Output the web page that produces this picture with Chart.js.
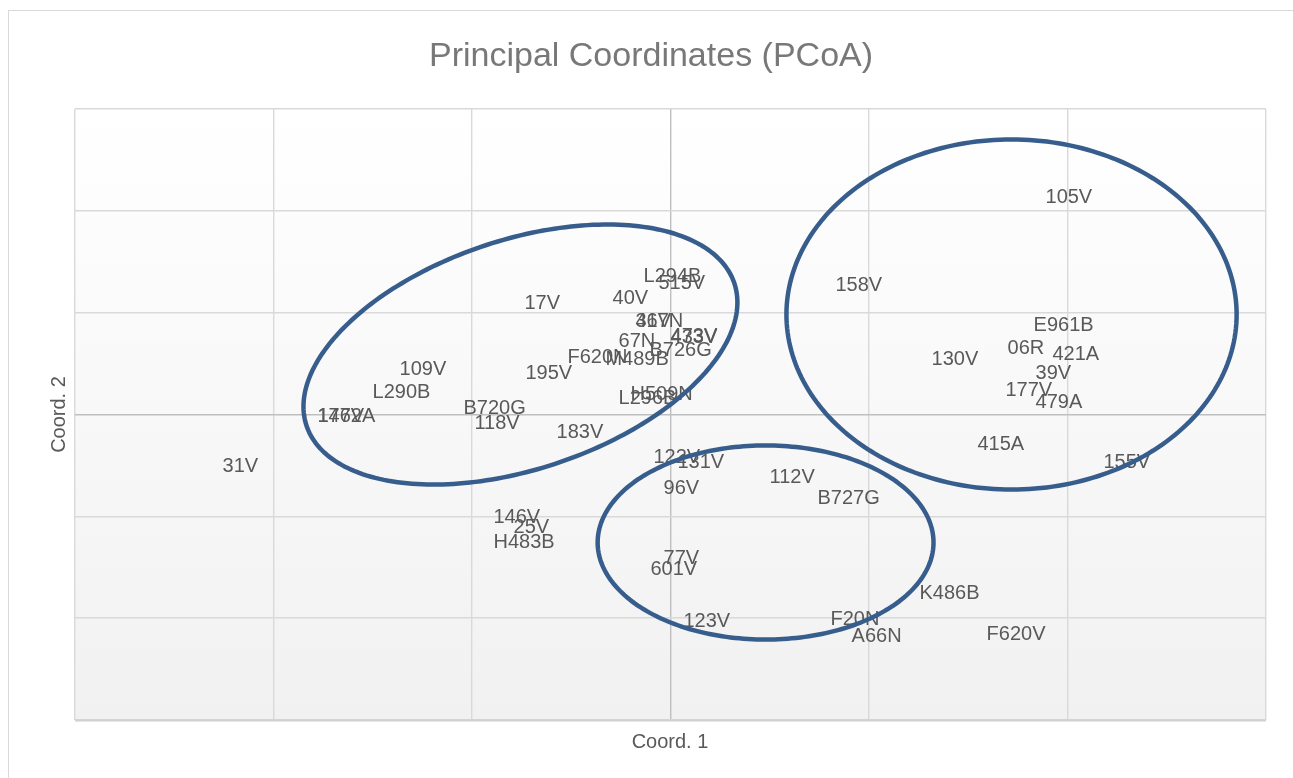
<!DOCTYPE html>
<html>
<head>
<meta charset="utf-8">
<script src="https://cdn.jsdelivr.net/npm/chart.js@4.4.1/dist/chart.umd.min.js"></script>
<style>
  html, body { margin: 0; padding: 0; background: #ffffff; }
  canvas { display: block; }
</style>
</head>
<body>
<canvas id="c" width="1293" height="778"></canvas>
<script>
// ---- Data ----
const pointLabels = [
  "L294B","515V","40V","17V","367N","41V","67N","473V","433V","B726G","F620N","M489B",
  "195V","109V","L290B","B720G","118V","183V","1472A","176V","31V","L296B","H509N",
  "158V","105V","E961B","06R","421A","130V","39V","177V","479A","415A","155V",
  "122V","131V","96V","146V","25V","H483B","77V","601V","112V","B727G",
  "K486B","123V","F20N","A66N","F620V"
];
const coord1 = [
  -0.0161, -0.0086, -0.0317, -0.0761, -0.0202, -0.0202, -0.0287, -0.0025, -0.0025, -0.0131, -0.0544, -0.0353,
  -0.0756, -0.1390, -0.1526, -0.1068, -0.1013, -0.0599, -0.1804, -0.1804, -0.2282, -0.0287, -0.0227,
  0.0806, 0.1864, 0.1804, 0.1673, 0.1899, 0.1290, 0.1814, 0.1662, 0.1814, 0.1521, 0.2156,
  -0.0111, 0.0010, -0.0060, -0.0917, -0.0816, -0.0917, -0.0060, -0.0126, 0.0474, 0.0715,
  0.1229, 0.0040, 0.0781, 0.0887, 0.1567
];
const coord2 = [
  0.1375, 0.1306, 0.1159, 0.1110, 0.0933, 0.0933, 0.0737, 0.0786, 0.0776, 0.0648, 0.0579, 0.0560,
  0.0422, 0.0462, 0.0236, 0.0079, -0.0069, -0.0157, 0.0000, 0.0000, -0.0491, 0.0177, 0.0216,
  0.1286, 0.2151, 0.0894, 0.0668, 0.0609, 0.0560, 0.0422, 0.0255, 0.0137, -0.0275, -0.0452,
  -0.0403, -0.0452, -0.0707, -0.0992, -0.1090, -0.1237, -0.1394, -0.1503, -0.0599, -0.0805,
  -0.1738, -0.2013, -0.1994, -0.2160, -0.2141
];
// Group ellipses in data units: centre, conjugate half-diameters
const ellipseCx = [-0.0756, 0.1718, 0.0479];
const ellipseCy = [0.0589, 0.0982, -0.1257];
const ellipseAx = [0.1093, 0.1134, 0.0846];
const ellipseAy = [0.0511, 0.0, 0.0];
const ellipseBy = [0.1170, 0.1719, 0.0953];

const axisMin = -0.3, axisMax = 0.3, axisStep = 0.1;
const chartTitle = "Principal Coordinates (PCoA)";
const xTitle = "Coord. 1";
const yTitle = "Coord. 2";

// ---- Build dataset ----
const points = pointLabels.map((l, i) => ({ x: coord1[i], y: coord2[i], label: l }));

const FONT = "'Liberation Sans', Arial, sans-serif";

const decorPlugin = {
  id: 'decor',
  beforeDraw(chart) {
    const { ctx, chartArea: a } = chart;
    ctx.save();
    ctx.fillStyle = '#ffffff';
    ctx.fillRect(0, 0, chart.width, chart.height);
    // outer chart border
    ctx.strokeStyle = '#d9d9d9';
    ctx.lineWidth = 1;
    ctx.strokeRect(8.5, 10.5, chart.width + 20, chart.height + 20);
    // plot-area gradient
    const g = ctx.createLinearGradient(0, a.top, 0, a.bottom);
    g.addColorStop(0, '#ffffff');
    g.addColorStop(1, '#f1f1f1');
    ctx.fillStyle = g;
    ctx.fillRect(a.left, a.top, a.right - a.left, a.bottom - a.top);
    ctx.restore();
  },
  afterDatasetsDraw(chart) {
    const { ctx, chartArea: a } = chart;
    ctx.save();
    // bottom edge of plot area
    ctx.strokeStyle = '#d0d0d0';
    ctx.lineWidth = 2;
    ctx.beginPath();
    ctx.moveTo(a.left, a.bottom + 0.5);
    ctx.lineTo(a.right, a.bottom + 0.5);
    ctx.stroke();
    // data labels, placed to the right of each (invisible) point
    const meta = chart.getDatasetMeta(0);
    ctx.font = '20px ' + FONT;
    ctx.fillStyle = '#595959';
    ctx.textAlign = 'left';
    ctx.textBaseline = 'middle';
    meta.data.forEach((el, i) => {
      ctx.fillText(chart.data.datasets[0].data[i].label, el.x + 5, el.y + 2);
    });
    ctx.restore();
  },
  afterDraw(chart) {
    const { ctx, scales: { x, y } } = chart;
    ctx.save();
    // ellipses
    ctx.strokeStyle = '#375d8d';
    ctx.lineWidth = 4.5;
    for (let k = 0; k < ellipseCx.length; k++) {
      ctx.beginPath();
      const N = 240;
      for (let s = 0; s <= N; s++) {
        const t = (s / N) * Math.PI * 2;
        const dx = ellipseCx[k] + ellipseAx[k] * Math.cos(t);
        const dy = ellipseCy[k] + ellipseAy[k] * Math.cos(t) + ellipseBy[k] * Math.sin(t);
        const px = x.getPixelForValue(dx), py = y.getPixelForValue(dy);
        if (s === 0) ctx.moveTo(px, py); else ctx.lineTo(px, py);
      }
      ctx.closePath();
      ctx.stroke();
    }
    // titles
    ctx.textAlign = 'center';
    ctx.textBaseline = 'middle';
    ctx.fillStyle = '#787878';
    ctx.font = '34px ' + FONT;
    ctx.fillText(chartTitle, 651, 57);
    ctx.fillStyle = '#595959';
    ctx.font = '20px ' + FONT;
    ctx.fillText(xTitle, (chart.chartArea.left + chart.chartArea.right) / 2 - 0.5, 742);
    ctx.translate(59, (chart.chartArea.top + chart.chartArea.bottom) / 2);
    ctx.rotate(-Math.PI / 2);
    ctx.fillText(yTitle, 0, 0);
    ctx.restore();
  }
};

const gridColor = (ctx) => (ctx.tick && Math.abs(ctx.tick.value) < 1e-9) ? '#bfbfbf' : '#d9d9d9';

new Chart(document.getElementById('c'), {
  type: 'scatter',
  data: {
    datasets: [{
      label: 'PCoA',
      data: points,
      pointRadius: 0,
      pointHoverRadius: 0,
      showLine: false
    }]
  },
  options: {
    responsive: false,
    animation: false,
    events: [],
    layout: { padding: { left: 75, right: 27, top: 109, bottom: 58 } },
    plugins: {
      legend: { display: false },
      tooltip: { enabled: false },
      title: { display: false }
    },
    scales: {
      x: {
        type: 'linear',
        min: axisMin, max: axisMax,
        ticks: { display: false, stepSize: axisStep },
        grid: { color: gridColor, lineWidth: 1.4, drawTicks: false },
        border: { display: false }
      },
      y: {
        type: 'linear',
        min: axisMin, max: axisMax,
        ticks: { display: false, stepSize: axisStep },
        grid: { color: gridColor, lineWidth: 1.4, drawTicks: false },
        border: { display: false }
      }
    }
  },
  plugins: [decorPlugin]
});
</script>
</body>
</html>
